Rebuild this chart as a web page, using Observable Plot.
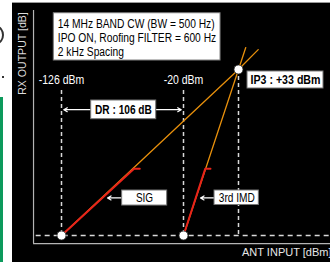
<!DOCTYPE html>
<html><head><meta charset="utf-8">
<script src="https://cdn.jsdelivr.net/npm/d3@7"></script>
<script src="https://cdn.jsdelivr.net/npm/@observablehq/plot@0.6"></script>
<style>
html,body{margin:0;padding:0;background:#fff;}
#wrap{position:relative;width:330px;height:262px;overflow:hidden;background:#fff;}
#panel{position:absolute;left:12px;top:2px;width:318px;height:260px;background:#000;border-top:1px solid #9a9a9a;box-sizing:border-box;}
#green{position:absolute;left:0;top:97px;width:3px;height:165px;background:#0c9a5c;}
#arc{position:absolute;left:-10px;top:26px;width:10px;height:14px;border:2.5px solid #333;border-radius:50%;}
#dot{position:absolute;left:2px;top:76px;width:2px;height:2px;background:#333;}
#chart{position:absolute;left:0;top:0;}
</style></head>
<body>
<div id="wrap"><div id="panel"></div><div id="green"></div><div id="arc"></div><div id="dot"></div><div id="chart"></div></div>
<script>
// Key points (input dBm, output dB)
const keyInputs = [-126, -20, 33];
const keyOutputs = [-126, -126, 33];
const inputLabels = ["-126 dBm", "-20 dBm"];
// Signal response (slope 1) and 3rd-order IMD response (slope 3)
const sigX = [-126, 33, 52];
const sigY = [-126, 33, 52];
const imdX = [-20, 33, 40];
const imdY = [-126, 33, 54];
// Measured (red) portions
const sigRedX = [-126, -63, -58];
const sigRedY = [-126, -62, -62];
const imdRedX = [-20, 1, 6];
const imdRedY = [-126, -62, -62];
const infoLines = ["14 MHz BAND CW (BW = 500 Hz)", "IPO ON, Roofing FILTER = 600 Hz", "2 kHz Spacing"];
const drText = "DR : 106 dB";
const ip3Text = "IP3 : +33 dBm";
const xTitle = "ANT INPUT [dBm]";
const yTitle = "RX OUTPUT [dB]";

const font = "'Liberation Sans',Arial,sans-serif";
const line = (xs, ys) => xs.map((x, i) => ({x, y: ys[i]}));
const keyPts = keyInputs.map((x, i) => ({x, y: keyOutputs[i]}));

const boxes = [
  {x1: -132.7, x2: 15.7, y1: 41.6, y2: 86.9},
  {x1: -100.2, x2: -43.7, y1: -14.6, y2: 3.3},
  {x1: 41.7, x2: 114.9, y1: 14.8, y2: 31.1},
  {x1: -73.3, x2: -34.2, y1: -97.3, y2: -82.9},
  {x1: 9.9, x2: 52.6, y1: -96.8, y2: -82.9}
];
const arrows = [
  {x1: -100.2, y1: -5.5, x2: -124, y2: -5.5},
  {x1: -43.7, y1: -5.5, x2: -22, y2: -5.5},
  {x1: -73.3, y1: -90, x2: -86, y2: -90},
  {x1: 9.9, y1: -90, x2: -3.6, y2: -90}
];
// horizontal condensing of each label (reference uses a condensed face)
const squeeze = {default: 0.84};
squeeze[xTitle] = 0.95; squeeze[yTitle] = 0.92;
squeeze[drText] = 0.81; squeeze[ip3Text] = 0.85;
squeeze["SIG"] = 0.8; squeeze["3rd IMD"] = 0.81;

const dash = {stroke: "#d8d8d8", strokeWidth: 1.5, strokeDasharray: "4,3"};
const plot = Plot.plot({
  width: 330, height: 262,
  marginTop: 0, marginRight: 0, marginBottom: 0, marginLeft: 0,
  x: {type: "linear", domain: keyInputs, range: [61, 183, 238], axis: null},
  y: {type: "linear", domain: [-126, 33], range: [235, 69], axis: null},
  style: {background: "transparent", fontFamily: font, overflow: "visible"},
  marks: [
    Plot.ruleX([-150.3], {y1: 89.5, y2: -133.7, stroke: "#b4b4b4", strokeWidth: 1.2}),
    Plot.ruleY([-133.7], {x1: -150.3, x2: 125, stroke: "#b4b4b4", strokeWidth: 1.2}),
    Plot.ruleY([-126], {x1: -148, x2: 125, ...dash, strokeDasharray: "5,4"}),
    Plot.ruleX(keyInputs.slice(0, 2), {y1: 13, y2: -126, ...dash}),
    Plot.ruleX([keyInputs[2]], {y1: keyOutputs[2], y2: -126, ...dash}),
    Plot.line(line(sigX, sigY), {x: "x", y: "y", stroke: "#e8900c", strokeWidth: 1.3}),
    Plot.line(line(imdX, imdY), {x: "x", y: "y", stroke: "#e8900c", strokeWidth: 1.3}),
    Plot.line(line(sigRedX, sigRedY), {x: "x", y: "y", stroke: "#e8231a", strokeWidth: 2}),
    Plot.line(line(imdRedX, imdRedY), {x: "x", y: "y", stroke: "#e8231a", strokeWidth: 2}),
    Plot.dot(keyPts, {x: "x", y: "y", r: 4.5, fill: "#fff", stroke: "#222", strokeWidth: 0.8}),
    Plot.text(inputLabels, {x: (d, i) => keyInputs[i], y: 23.4, text: d => d, fill: "#fff", fontSize: 12.5}),
    Plot.arrow(arrows, {x1: "x1", y1: "y1", x2: "x2", y2: "y2", stroke: "#fff", strokeWidth: 1.2, headLength: 5}),
    Plot.rect(boxes, {x1: "x1", x2: "x2", y1: "y1", y2: "y2", fill: "#fff", stroke: "#777", strokeWidth: 1}),
    Plot.text([infoLines.join("\n")], {x: -129.2, y: 63.2, text: d => d, textAnchor: "start", fill: "#000", fontSize: 12.5, lineHeight: 1.12}),
    Plot.text([drText], {x: -72.2, y: -5.6, text: d => d, fill: "#000", fontSize: 12.5, fontWeight: "bold"}),
    Plot.text([ip3Text], {x: 78.3, y: 22.9, text: d => d, fill: "#000", fontSize: 12.5, fontWeight: "bold"}),
    Plot.text(["SIG"], {x: -53.9, y: -90.1, text: d => d, fill: "#000", fontSize: 12.5}),
    Plot.text(["3rd IMD"], {x: 31.4, y: -89.8, text: d => d, fill: "#000", fontSize: 12.5}),
    Plot.text([xTitle], {x: 122.6, y: -142.3, text: d => d, textAnchor: "end", fill: "#e6e6e6", fontSize: 11.6}),
    Plot.text([yTitle], {x: -159.9, y: 48.3, text: d => d, rotate: -90, fill: "#dcdcdc", fontSize: 11.5})
  ]
});
plot.querySelectorAll("text").forEach(t => {
  const s = squeeze[t.textContent] ?? (t.textContent.startsWith("14 MHz") ? 0.82 : squeeze.default);
  const tr = t.getAttribute("transform") || "";
  t.setAttribute("transform", `${tr} scale(${s},1)`);
});
document.getElementById("chart").appendChild(plot);
</script>
</body></html>
